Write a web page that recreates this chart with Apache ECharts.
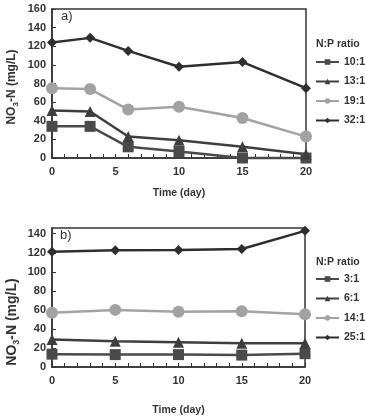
<!DOCTYPE html>
<html lang="en" style="height: 100%">
<head>
  <meta charset="utf-8" />
</head>
<body style="height: 100%; margin: 0; background: #fff">
  <div id="container" style="width: 365px; height: 417px"></div>
  <script src="https://fastly.jsdelivr.net/npm/echarts@6/dist/echarts.min.js"></script>
  <script>
    // panel a) days and NO3-N values
    var daysA = [0, 3, 6, 10, 15, 20];
    var r10 = [34, 34, 12, 7, 0, 0];
    var r13 = [51, 50, 23, 19, 12, 4];
    var r19 = [75, 74, 52, 55, 43, 23];
    var r32 = [124, 129, 115, 98, 103, 75];

    // panel b)
    var daysB = [0, 5, 10, 15, 20];
    var r3 = [13.5, 13, 13, 12.5, 14];
    var r6 = [29, 27, 26, 25, 25];
    var r14 = [57, 60, 58, 58.5, 55.5];
    var r25 = [121, 122.5, 123, 124, 143];

    var namesA = ["10:1", "13:1", "19:1", "32:1"];
    var namesB = ["3:1", "6:1", "14:1", "25:1"];

    var font = "Liberation Sans, Arial, sans-serif";
    var ink = "#333";

    function pairs(xs, ys) {
      return xs.map(function (x, i) { return [x, ys[i]]; });
    }

    var looks = [
      { symbol: "rect", size: 11, color: "#4a4a4a" },
      { symbol: "triangle", size: 11, color: "#3e3e3e" },
      { symbol: "circle", size: 12, color: "#a2a2a2" },
      { symbol: "diamond", size: 10, color: "#2e2e2e" },
    ];

    function makeSeries(name, xs, ys, k, idx) {
      return {
        name: name,
        type: "line",
        xAxisIndex: idx,
        yAxisIndex: idx,
        data: pairs(xs, ys),
        symbol: looks[k].symbol,
        symbolSize: looks[k].size,
        clip: false,
        itemStyle: { color: looks[k].color },
        lineStyle: { color: looks[k].color, width: 2.5 },
        emphasis: { disabled: true },
      };
    }

    function xAxis(idx, gap) {
      return {
        type: "value",
        gridIndex: idx,
        min: 0,
        max: 20,
        interval: 5,
        name: "Time (day)",
        nameLocation: "middle",
        nameGap: gap,
        nameTextStyle: { fontFamily: font, fontWeight: "bold", fontSize: 10.5, color: ink },
        axisLine: { lineStyle: { color: ink, width: 1.5 } },
        axisTick: { inside: true, length: 4, lineStyle: { color: ink } },
        minorTick: { show: true, splitNumber: 5, length: 4, lineStyle: { color: ink } },
        splitLine: { show: false },
        axisLabel: { fontFamily: font, fontWeight: "bold", fontSize: 11, color: ink, margin: 8 },
      };
    }

    function yAxis(idx, max) {
      return {
        type: "value",
        gridIndex: idx,
        min: 0,
        max: max,
        interval: 20,
        axisLine: { show: true, lineStyle: { color: ink, width: 1.5 } },
        axisTick: { show: true, inside: true, length: 4, lineStyle: { color: ink } },
        splitLine: { show: false },
        axisLabel: { fontFamily: font, fontWeight: "bold", fontSize: 11, color: ink, margin: 6, showMaxLabel: max === 160 },
      };
    }

    function legend(names, top) {
      return {
        data: names,
        orient: "vertical",
        left: 315,
        top: top,
        padding: 0,
        itemWidth: 23,
        itemHeight: 7,
        itemGap: 7.5,
        textStyle: { fontFamily: font, fontWeight: "bold", fontSize: 10.5, color: ink, lineHeight: 12 },
        selectedMode: false,
      };
    }

    var dom = document.getElementById("container");
    var myChart = echarts.init(dom, null, { renderer: "canvas" });

    var option = {
      backgroundColor: "#fff",
      animation: false,
      grid: [
        { left: 52, top: 9, width: 254, height: 149, show: true, borderColor: ink, borderWidth: 1.5 },
        { left: 52, top: 228, width: 253, height: 154, show: true, borderColor: ink, borderWidth: 1.5 },
      ],
      xAxis: [xAxis(0, 30), xAxis(1, 38)],
      yAxis: [yAxis(0, 160), yAxis(1, 146)],
      legend: [legend(namesA, 56), legend(namesB, 273)],
      graphic: [
        { type: "text", left: 61, top: 10, style: { text: "a)", font: "13px " + font, fill: ink } },
        { type: "text", left: 60, top: 229, style: { text: "b)", font: "13px " + font, fill: ink } },
        { type: "text", left: 316, top: 39, style: { text: "N:P ratio", font: "bold 10.5px " + font, fill: ink } },
        { type: "text", left: 316, top: 257, style: { text: "N:P ratio", font: "bold 10.5px " + font, fill: ink } },
        {
          type: "text", x: 12, y: 87, rotation: Math.PI / 2,
          style: {
            text: "NO{s|3}-N (mg/L)", align: "center", verticalAlign: "middle",
            font: "bold 12px " + font, fill: ink,
            rich: { s: { fontSize: 8, fontWeight: "bold", fontFamily: font, fill: ink, padding: [8, 0, 0, 0] } },
          },
        },
        {
          type: "text", x: 12, y: 322, rotation: Math.PI / 2,
          style: {
            text: "NO{s|3}-N (mg/L)", align: "center", verticalAlign: "middle",
            font: "bold 14px " + font, fill: ink,
            rich: { s: { fontSize: 9, fontWeight: "bold", fontFamily: font, fill: ink, padding: [9, 0, 0, 0] } },
          },
        },
      ],
      series: [
        makeSeries(namesA[0], daysA, r10, 0, 0),
        makeSeries(namesA[1], daysA, r13, 1, 0),
        makeSeries(namesA[2], daysA, r19, 2, 0),
        makeSeries(namesA[3], daysA, r32, 3, 0),
        makeSeries(namesB[0], daysB, r3, 0, 1),
        makeSeries(namesB[1], daysB, r6, 1, 1),
        makeSeries(namesB[2], daysB, r14, 2, 1),
        makeSeries(namesB[3], daysB, r25, 3, 1),
      ],
    };

    myChart.setOption(option);
  </script>
</body>
</html>
